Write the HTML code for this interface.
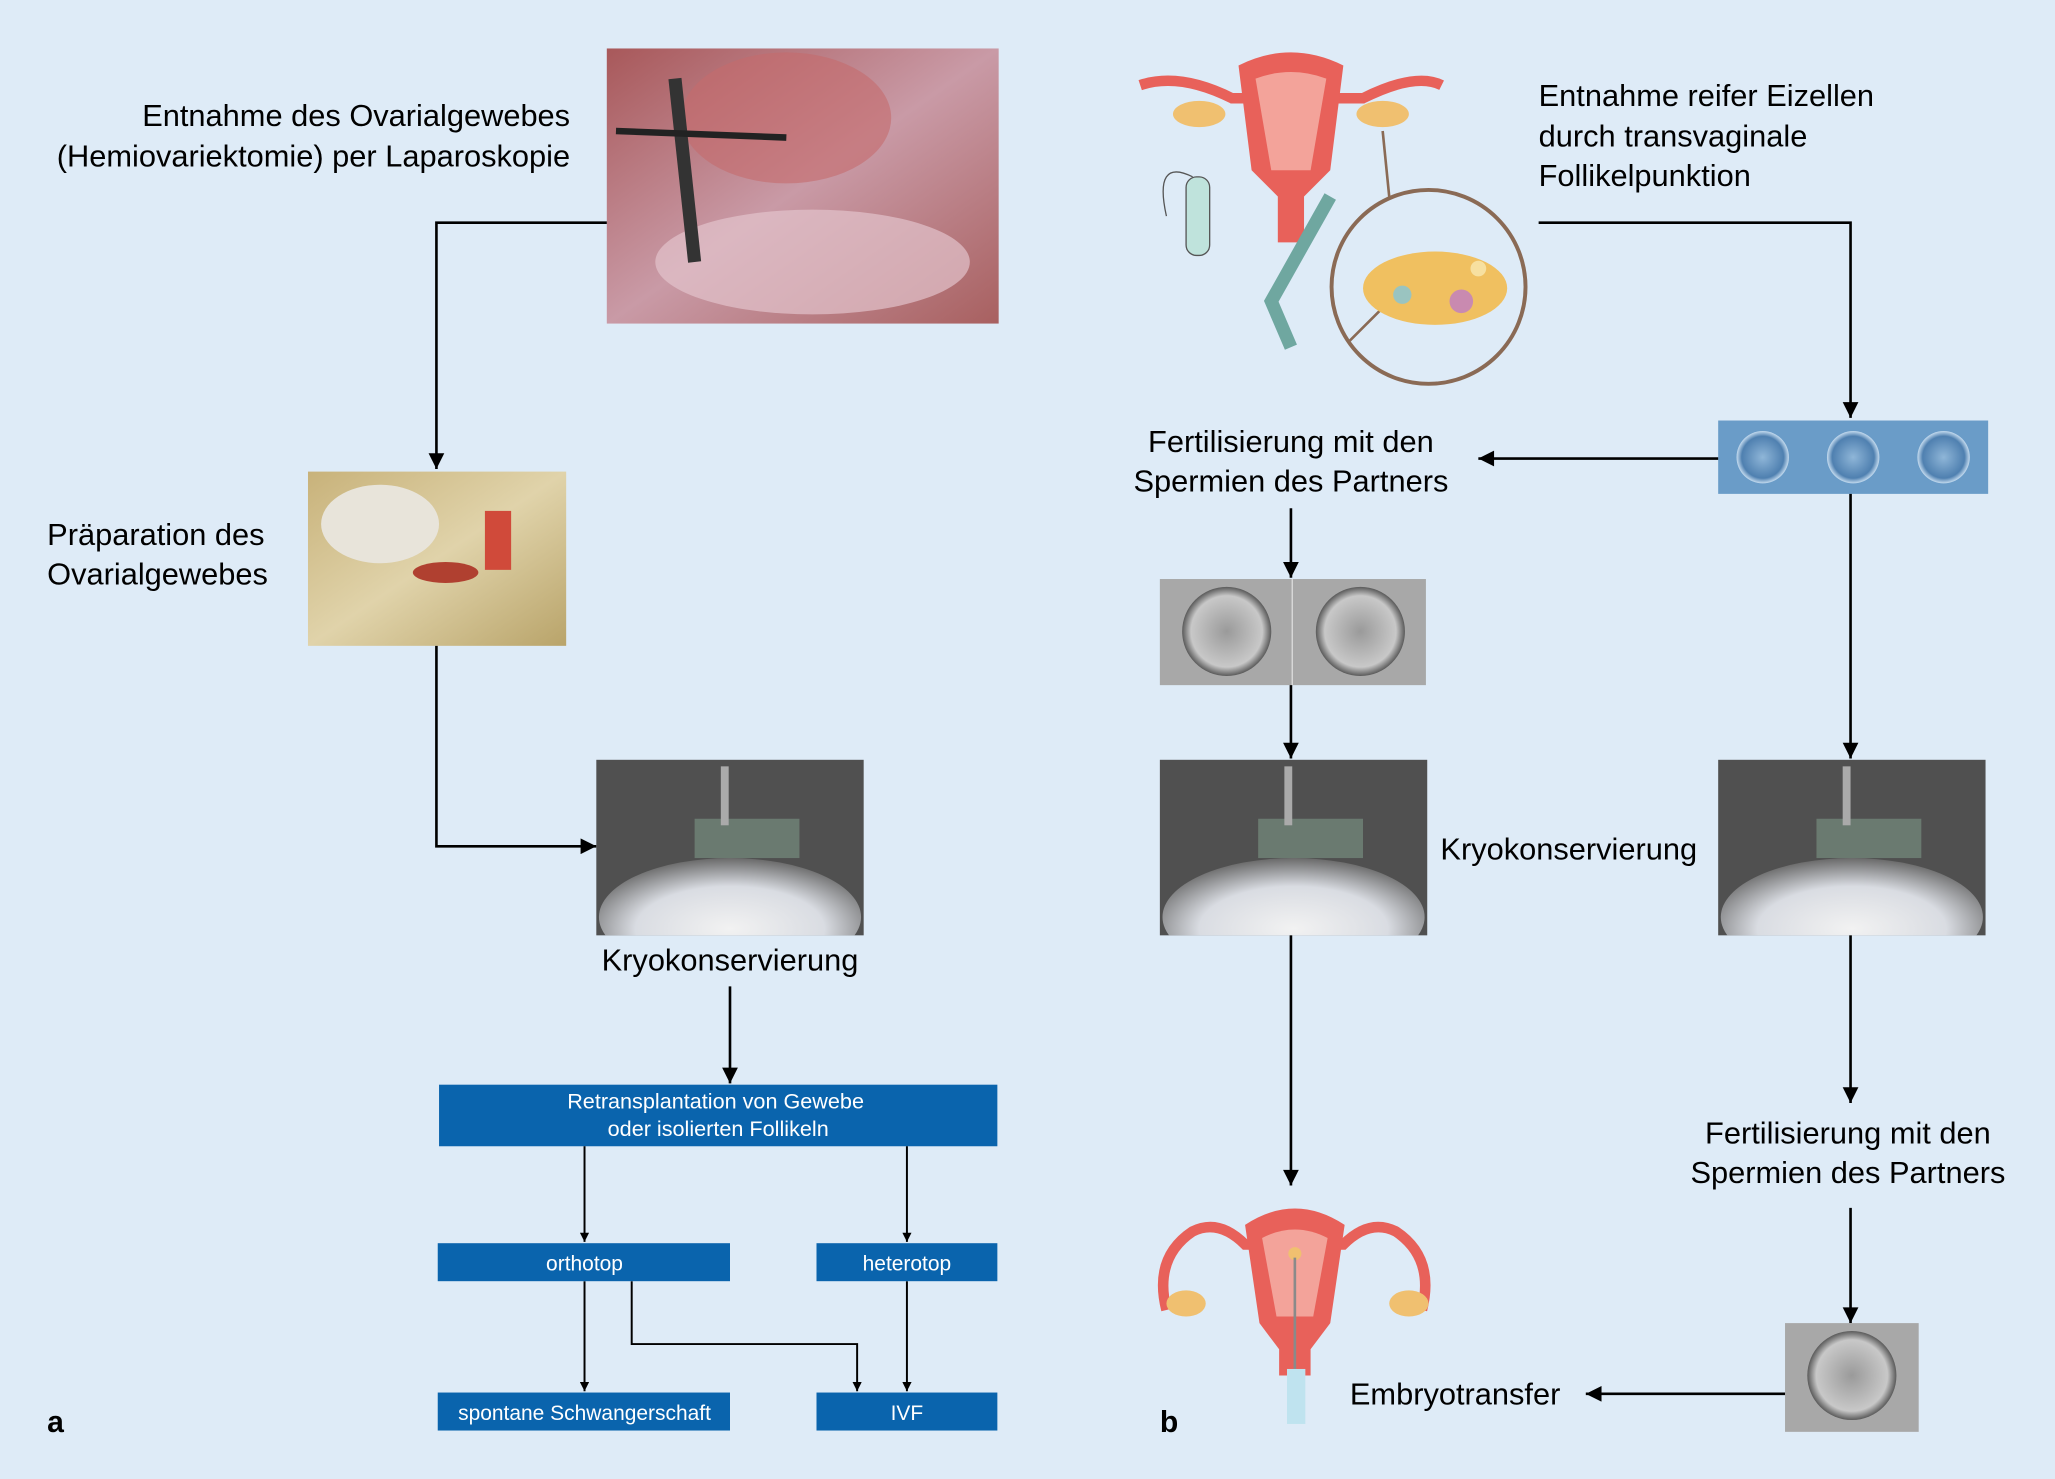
<!DOCTYPE html>
<html><head><meta charset="utf-8"><style>
html,body{margin:0;padding:0;background:#deebf7;}
svg{display:block;}
text{font-family:"Liberation Sans",sans-serif;}
</style></head><body>
<svg width="2055" height="1479" viewBox="0 0 1568 1129" preserveAspectRatio="none" xmlns="http://www.w3.org/2000/svg">
<defs>
<marker id="ar" viewBox="0 0 10 10" refX="10" refY="5" markerWidth="7" markerHeight="7" orient="auto-start-reverse" markerUnits="userSpaceOnUse"><path d="M0,0L10,5L0,10z" fill="#000"/></marker>
<marker id="ar2" viewBox="0 0 10 10" refX="10" refY="5" markerWidth="14" markerHeight="12" orient="auto" markerUnits="userSpaceOnUse"><path d="M0,0L10,5L0,10z" fill="#000"/></marker>
<linearGradient id="lap" x1="0" y1="0" x2="1" y2="1"><stop offset="0" stop-color="#a8585a"/><stop offset=".5" stop-color="#c99aa6"/><stop offset="1" stop-color="#a86060"/></linearGradient>
<linearGradient id="lab" x1="0" y1="0" x2="1" y2="1"><stop offset="0" stop-color="#c8b27a"/><stop offset=".5" stop-color="#e0d3aa"/><stop offset="1" stop-color="#b9a46a"/></linearGradient>
<radialGradient id="fog" cx=".5" cy=".6" r=".6"><stop offset="0" stop-color="#f2f2f2"/><stop offset=".6" stop-color="#d9dce2"/><stop offset="1" stop-color="#6a6a6a"/></radialGradient>
<radialGradient id="cell" cx=".5" cy=".5" r=".5"><stop offset="0" stop-color="#9a9a9a"/><stop offset=".8" stop-color="#c8c8c8"/><stop offset="1" stop-color="#5a5a5a"/></radialGradient>
<radialGradient id="egg" cx=".5" cy=".5" r=".5"><stop offset="0" stop-color="#8fb6d8"/><stop offset=".8" stop-color="#4f80b0"/><stop offset="1" stop-color="#c4dbef"/></radialGradient>
<clipPath id="cc"><rect x="455" y="580" width="204" height="134"/></clipPath>
</defs>
<rect width="1568" height="1129" fill="#deebf7"/>

<!-- Panel a -->
<rect x="463" y="37" width="299" height="210" fill="url(#lap)"/>
<ellipse cx="600" cy="90" rx="80" ry="50" fill="#c46a6c" opacity=".6"/>
<ellipse cx="620" cy="200" rx="120" ry="40" fill="#e2c3cc" opacity=".7"/>
<path d="M515,60 L530,200" stroke="#333" stroke-width="10"/>
<path d="M470,100 L600,105" stroke="#222" stroke-width="5"/>
<text x="435" y="96" font-size="23.5" text-anchor="end">Entnahme des Ovarialgewebes</text>
<text x="435" y="127" font-size="23.5" text-anchor="end">(Hemiovariektomie) per Laparoskopie</text>
<polyline points="463,170 333,170 333,358" fill="none" stroke="#000" stroke-width="2" marker-end="url(#ar2)"/>

<rect x="235" y="360" width="197" height="133" fill="url(#lab)"/>
<ellipse cx="290" cy="400" rx="45" ry="30" fill="#e8e4da"/>
<rect x="370" y="390" width="20" height="45" fill="#d04a3a"/>
<ellipse cx="340" cy="437" rx="25" ry="8" fill="#b04030"/>
<text x="36" y="416" font-size="23.5">Präparation des</text>
<text x="36" y="446" font-size="23.5">Ovarialgewebes</text>
<polyline points="333,493 333,646 455,646" fill="none" stroke="#000" stroke-width="2" marker-end="url(#ar2)"/>

<g id="cryo">
<rect x="455" y="580" width="204" height="134" fill="#505050"/>
<g clip-path="url(#cc)"><ellipse cx="557" cy="700" rx="100" ry="45" fill="url(#fog)"/></g>
<rect x="530" y="625" width="80" height="30" fill="#6a7a70"/>
<rect x="550" y="585" width="6" height="45" fill="#aaa"/>
</g>
<text x="557" y="741" font-size="23.5" text-anchor="middle">Kryokonservierung</text>
<line x1="557" y1="753" x2="557" y2="827" stroke="#000" stroke-width="2" marker-end="url(#ar2)"/>

<rect x="335" y="828" width="426" height="47" fill="#0a64ad"/>
<text x="546" y="846" font-size="16.5" fill="#fff" text-anchor="middle">Retransplantation von Gewebe</text>
<text x="548" y="867" font-size="16.5" fill="#fff" text-anchor="middle">oder isolierten Follikeln</text>
<g stroke="#000" stroke-width="1.5" fill="none">
<line x1="446" y1="875" x2="446" y2="948" marker-end="url(#ar)"/>
<line x1="692" y1="875" x2="692" y2="948" marker-end="url(#ar)"/>
<line x1="446" y1="978" x2="446" y2="1062" marker-end="url(#ar)"/>
<line x1="692" y1="978" x2="692" y2="1062" marker-end="url(#ar)"/>
<polyline points="482,978 482,1026 654,1026 654,1062" marker-end="url(#ar)"/>
</g>
<rect x="334" y="949" width="223" height="29" fill="#0a64ad"/>
<text x="446" y="970" font-size="16" fill="#fff" text-anchor="middle">orthotop</text>
<rect x="623" y="949" width="138" height="29" fill="#0a64ad"/>
<text x="692" y="970" font-size="16" fill="#fff" text-anchor="middle">heterotop</text>
<rect x="334" y="1063" width="223" height="29" fill="#0a64ad"/>
<text x="446" y="1084" font-size="16" fill="#fff" text-anchor="middle">spontane Schwangerschaft</text>
<rect x="623" y="1063" width="138" height="29" fill="#0a64ad"/>
<text x="692" y="1084" font-size="16" fill="#fff" text-anchor="middle">IVF</text>
<text x="36" y="1093" font-size="23" font-weight="bold">a</text>

<!-- Panel b -->
<g>
<path d="M870,65 Q900,55 940,75 L1040,75 Q1080,55 1100,65" stroke="#e8615a" stroke-width="8" fill="none"/>
<ellipse cx="915" cy="87" rx="20" ry="10" fill="#f0c070"/>
<ellipse cx="1055" cy="87" rx="20" ry="10" fill="#f0c070"/>
<path d="M945,50 Q985,30 1025,50 L1015,130 L995,150 L995,185 L975,185 L975,150 L955,130 Z" fill="#e8615a"/>
<path d="M958,60 Q985,50 1012,60 L1000,130 L970,130 Z" fill="#f3a39a"/>
<path d="M1015,150 L970,230 L985,265" stroke="#6fa7a0" stroke-width="10" fill="none"/>
<rect x="905" y="135" width="18" height="60" rx="8" fill="#bfe3dc" stroke="#555"/>
<path d="M910,135 Q880,120 890,165" stroke="#555" fill="none"/>
<circle cx="1090" cy="219" r="74" fill="#deebf7" stroke="#8a6a55" stroke-width="3"/>
<line x1="1055" y1="100" x2="1060" y2="150" stroke="#8a6a55" stroke-width="2"/>
<line x1="1030" y1="260" x2="1060" y2="230" stroke="#8a6a55" stroke-width="2"/>
<ellipse cx="1095" cy="220" rx="55" ry="28" fill="#f0c060"/>
<circle cx="1115" cy="230" r="9" fill="#c98ab0"/>
<circle cx="1070" cy="225" r="7" fill="#9ac4c0"/>
<circle cx="1128" cy="205" r="6" fill="#f7e0a0"/>
</g>
<text x="1174" y="81" font-size="23.5">Entnahme reifer Eizellen</text>
<text x="1174" y="112" font-size="23.5">durch transvaginale</text>
<text x="1174" y="142" font-size="23.5">Follikelpunktion</text>
<polyline points="1174,170 1412,170 1412,319" fill="none" stroke="#000" stroke-width="2" marker-end="url(#ar2)"/>

<rect x="1311" y="321" width="206" height="56" fill="#6a9cc8"/>
<circle cx="1345" cy="349" r="20" fill="url(#egg)"/>
<circle cx="1414" cy="349" r="20" fill="url(#egg)"/>
<circle cx="1483" cy="349" r="20" fill="url(#egg)"/>
<line x1="1311" y1="350" x2="1128" y2="350" stroke="#000" stroke-width="2" marker-end="url(#ar2)"/>
<text x="985" y="345" font-size="23.5" text-anchor="middle">Fertilisierung mit den</text>
<text x="985" y="375" font-size="23.5" text-anchor="middle">Spermien des Partners</text>
<line x1="985" y1="388" x2="985" y2="441" stroke="#000" stroke-width="2" marker-end="url(#ar2)"/>

<rect x="885" y="442" width="203" height="81" fill="#a8a8a8"/>
<circle cx="936" cy="482" r="34" fill="url(#cell)"/>
<circle cx="1038" cy="482" r="34" fill="url(#cell)"/>
<line x1="986" y1="442" x2="986" y2="523" stroke="#ddd"/>
<line x1="985" y1="523" x2="985" y2="579" stroke="#000" stroke-width="2" marker-end="url(#ar2)"/>

<use href="#cryo" x="430"/>
<use href="#cryo" x="856"/>
<text x="1197" y="656" font-size="23.5" text-anchor="middle">Kryokonservierung</text>
<line x1="1412" y1="377" x2="1412" y2="579" stroke="#000" stroke-width="2" marker-end="url(#ar2)"/>
<line x1="985" y1="714" x2="985" y2="905" stroke="#000" stroke-width="2" marker-end="url(#ar2)"/>
<line x1="1412" y1="714" x2="1412" y2="842" stroke="#000" stroke-width="2" marker-end="url(#ar2)"/>
<text x="1410" y="873" font-size="23.5" text-anchor="middle">Fertilisierung mit den</text>
<text x="1410" y="903" font-size="23.5" text-anchor="middle">Spermien des Partners</text>
<line x1="1412" y1="922" x2="1412" y2="1010" stroke="#000" stroke-width="2" marker-end="url(#ar2)"/>
<rect x="1362" y="1010" width="102" height="83" fill="#a8a8a8"/>
<circle cx="1413" cy="1050" r="34" fill="url(#cell)"/>
<line x1="1362" y1="1064" x2="1210" y2="1064" stroke="#000" stroke-width="2" marker-end="url(#ar2)"/>
<text x="1030" y="1072" font-size="23.5">Embryotransfer</text>

<g>
<path d="M890,1000 Q880,960 910,940 Q930,930 950,950 L1025,950 Q1045,930 1065,940 Q1095,960 1085,1000" stroke="#e8615a" stroke-width="8" fill="none"/>
<ellipse cx="905" cy="995" rx="15" ry="10" fill="#f0c070"/>
<ellipse cx="1075" cy="995" rx="15" ry="10" fill="#f0c070"/>
<path d="M950,935 Q988,910 1026,935 L1015,1010 L1000,1030 L1000,1050 L976,1050 L976,1030 L961,1010 Z" fill="#e8615a"/>
<path d="M963,945 Q988,932 1013,945 L1002,1005 L974,1005 Z" fill="#f3a39a"/>
<circle cx="988" cy="957" r="5" fill="#f0c070"/>
<line x1="988" y1="960" x2="988" y2="1045" stroke="#8a8a8a" stroke-width="2"/>
<rect x="982" y="1045" width="14" height="42" fill="#bfe3ef"/>
</g>
<text x="885" y="1093" font-size="23" font-weight="bold">b</text>
</svg>
</body></html>
